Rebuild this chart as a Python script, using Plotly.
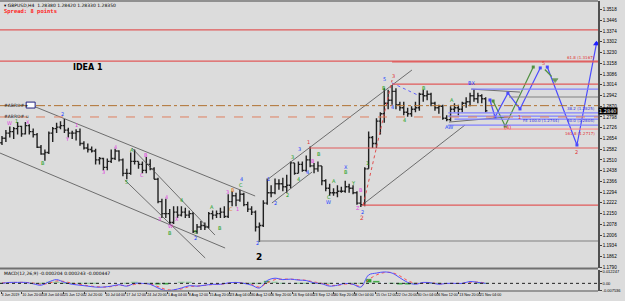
import plotly.graph_objects as go

# ---------------- data (daily bars, trading-day index) ----------------
days = list(range(125))
first_open = 1.2625
high = [1.2670, 1.2710, 1.2735, 1.2730, 1.2765, 1.2740, 1.2765, 1.2750, 1.2720, 1.2690,
        1.2610, 1.2580, 1.2700, 1.2730, 1.2760, 1.2770, 1.2785, 1.2725, 1.2705, 1.2715,
        1.2720, 1.2635, 1.2620, 1.2600, 1.2585, 1.2530, 1.2525, 1.2520, 1.2580, 1.2585,
        1.2575, 1.2520, 1.2450, 1.2560, 1.2580, 1.2500, 1.2500, 1.2530, 1.2515, 1.2460,
        1.2390, 1.2250, 1.2250, 1.2180, 1.2200, 1.2200, 1.2200, 1.2190, 1.2170, 1.2160,
        1.2080, 1.2100, 1.2090, 1.2160, 1.2170, 1.2170, 1.2190, 1.2200, 1.2280, 1.2300,
        1.2290, 1.2310, 1.2290, 1.2230, 1.2200, 1.2170, 1.2090, 1.2240, 1.2385, 1.2340,
        1.2385, 1.2380, 1.2390, 1.2410, 1.2500, 1.2490, 1.2500, 1.2500, 1.2540, 1.2600,
        1.2490, 1.2500, 1.2470, 1.2380, 1.2350, 1.2320, 1.2340, 1.2330, 1.2370, 1.2350,
        1.2340, 1.2300, 1.2270, 1.2460, 1.2700, 1.2670, 1.2790, 1.2830, 1.2990, 1.2980,
        1.3013, 1.2990, 1.2900, 1.2900, 1.2860, 1.2870, 1.2900, 1.2960, 1.2980, 1.2975,
        1.2960, 1.2900, 1.2880, 1.2880, 1.2810, 1.2870, 1.2890, 1.2880, 1.2900, 1.2930,
        1.2960, 1.2985, 1.2960, 1.2950, 1.2930]
low = [1.2610, 1.2630, 1.2660, 1.2650, 1.2680, 1.2665, 1.2680, 1.2680, 1.2660, 1.2590,
       1.2545, 1.2505, 1.2550, 1.2630, 1.2690, 1.2715, 1.2690, 1.2660, 1.2650, 1.2640,
       1.2605, 1.2580, 1.2560, 1.2560, 1.2480, 1.2480, 1.2440, 1.2440, 1.2490, 1.2510,
       1.2500, 1.2400, 1.2380, 1.2410, 1.2480, 1.2450, 1.2420, 1.2420, 1.2440, 1.2380,
       1.2220, 1.2120, 1.2120, 1.2080, 1.2080, 1.2120, 1.2130, 1.2120, 1.2120, 1.2020,
       1.2015, 1.2040, 1.2040, 1.2050, 1.2110, 1.2120, 1.2120, 1.2120, 1.2120, 1.2200,
       1.2200, 1.2230, 1.2200, 1.2160, 1.2140, 1.2030, 1.1959, 1.2060, 1.2210, 1.2260,
       1.2280, 1.2310, 1.2300, 1.2290, 1.2320, 1.2410, 1.2420, 1.2430, 1.2430, 1.2460,
       1.2420, 1.2430, 1.2340, 1.2300, 1.2270, 1.2270, 1.2260, 1.2290, 1.2290, 1.2290,
       1.2280, 1.2210, 1.2195, 1.2200, 1.2450, 1.2590, 1.2590, 1.2680, 1.2760, 1.2850,
       1.2880, 1.2850, 1.2840, 1.2810, 1.2800, 1.2800, 1.2830, 1.2840, 1.2900, 1.2910,
       1.2870, 1.2840, 1.2820, 1.2780, 1.2770, 1.2770, 1.2830, 1.2810, 1.2830, 1.2860,
       1.2870, 1.2900, 1.2890, 1.2890, 1.2830]
close = [1.2655, 1.2690, 1.2700, 1.2720, 1.2735, 1.2685, 1.2740, 1.2700, 1.2680, 1.2595,
         1.2550, 1.2560, 1.2690, 1.2720, 1.2730, 1.2740, 1.2710, 1.2690, 1.2690, 1.2700,
         1.2620, 1.2590, 1.2580, 1.2570, 1.2510, 1.2520, 1.2460, 1.2500, 1.2520, 1.2570,
         1.2510, 1.2420, 1.2420, 1.2500, 1.2500, 1.2480, 1.2440, 1.2480, 1.2450, 1.2380,
         1.2230, 1.2150, 1.2150, 1.2090, 1.2160, 1.2140, 1.2160, 1.2140, 1.2150, 1.2030,
         1.2060, 1.2070, 1.2060, 1.2150, 1.2140, 1.2150, 1.2160, 1.2130, 1.2230, 1.2270,
         1.2240, 1.2280, 1.2210, 1.2180, 1.2160, 1.2060, 1.2070, 1.2220, 1.2290, 1.2290,
         1.2350, 1.2350, 1.2330, 1.2340, 1.2490, 1.2420, 1.2480, 1.2440, 1.2510, 1.2470,
         1.2450, 1.2470, 1.2370, 1.2320, 1.2290, 1.2290, 1.2300, 1.2300, 1.2330, 1.2320,
         1.2290, 1.2220, 1.2210, 1.2450, 1.2660, 1.2620, 1.2770, 1.2820, 1.2890, 1.2910,
         1.2970, 1.2880, 1.2860, 1.2830, 1.2820, 1.2850, 1.2860, 1.2950, 1.2940, 1.2950,
         1.2890, 1.2860, 1.2870, 1.2790, 1.2780, 1.2850, 1.2860, 1.2850, 1.2890, 1.2900,
         1.2940, 1.2920, 1.2940, 1.2920, 1.2840]
open_ = [first_open] + close[:-1]

# MACD sampled every second trading day
macd_days = list(range(0, 125, 2))
macd_main = [0.0, 0.001, 0.001, 0.001, -0.0005, -0.002, 0.0015, 0.004, 0.001, -0.001,
             -0.002, -0.003, -0.004, -0.004, -0.003, -0.0015, -0.003, 0.0, 0.0, -0.001,
             -0.005, -0.0078, -0.007, -0.005, -0.0025, -0.003, -0.002, -0.001, -0.001, 0.0005,
             0.001, 0.0, -0.002, -0.005, 0.003, 0.0055, 0.004, 0.0045, 0.0035, 0.003,
             0.0005, -0.0005, -0.003, -0.002, 0.0, -0.001, -0.004, 0.009, 0.011, 0.0122,
             0.011, 0.006, 0.001, -0.001, 0.001, 0.0005, -0.001, 0.0, 0.0, 0.0,
             0.002, 0.001, 0.0]
macd_signal = [0.0005, 0.0008, 0.001, 0.001, 0.0003, -0.001, 0.0, 0.0025, 0.002, 0.0,
               -0.0012, -0.0025, -0.0035, -0.004, -0.0035, -0.002, -0.0025, -0.0012, -0.0003, -0.0008,
               -0.0035, -0.0065, -0.0072, -0.006, -0.0035, -0.003, -0.0022, -0.0013, -0.001, 0.0,
               0.0008, 0.0004, -0.0012, -0.004, 0.0005, 0.004, 0.0045, 0.0045, 0.004, 0.0032,
               0.0015, 0.0, -0.002, -0.0022, -0.0008, -0.0008, -0.003, 0.004, 0.009, 0.0115,
               0.0115, 0.008, 0.003, 0.0, 0.0005, 0.0007, -0.0005, -0.0002, 0.0, 0.0,
               0.0012, 0.0013, 0.0005]

date_labels = ["3 Jun 2019", "10 Jun 20:00", "18 Jun 04:00", "25 Jun 12:00", "2 Jul 20:00",
               "10 Jul 04:00", "17 Jul 12:00", "24 Jul 20:00", "1 Aug 04:00", "8 Aug 12:00",
               "15 Aug 20:00", "23 Aug 04:00", "30 Aug 12:00", "6 Sep 20:00", "16 Sep 04:00",
               "23 Sep 12:00", "30 Sep 20:00", "8 Oct 04:00", "15 Oct 12:00", "22 Oct 20:00",
               "30 Oct 04:00", "6 Nov 12:00", "13 Nov 20:00", "21 Nov 04:00"]

# horizontal levels
full_levels = [1.3382, 1.3173]
partial_red_start = [100, 100, 78.7, 92.3]
partial_red_levels = [1.3167, 1.3019, 1.2590, 1.2207]
gray_level_start = [130, 65.6]
gray_levels = [1.2932, 1.1966]
blue_level_start = [120.3, 114.4, 114.4, 116, 114.4]
blue_levels = [1.2985, 1.2825, 1.2804, 1.2784, 1.2744]
pivot_level = 1.2874
support_level = 1.2798
fib_red_level = 1.2717

# trend lines: (day0, price0, day1, price1)
trend_lines = [
    (7.95, 1.2872, 64.9, 1.2268),
    (-0.5, 1.2556, 57.2, 1.1919),
    (31.5, 1.2375, 52.1, 1.1852),
    (33.3, 1.2590, 54.6, 1.2006),
    (67.9, 1.2375, 105.1, 1.3113),
    (69.2, 1.2221, 79.5, 1.2429),
    (92.3, 1.2207, 118.7, 1.2744),
    (120.3, 1.2985, 132.8, 1.2965),
    (114.6, 1.2764, 129.7, 1.2798),
]
red_dotted = (92.6, 1.2207, 100.0, 1.3046)
blue_dotted = (100.0, 1.3026, 107.0, 1.2940)

# projection paths
proj_blue_a_d = [125.1, 126.4, 129.7, 132.8, 138.0]
proj_blue_a_p = [1.2912, 1.2798, 1.2958, 1.2852, 1.3127]
proj_blue_b_d = [139.8, 147.4, 152.4]
proj_blue_b_p = [1.3133, 1.2610, 1.3290]
proj_green_d = [125.9, 129.0, 136.2]
proj_green_p = [1.2905, 1.2737, 1.3133]
proj_green2_d = [139.3, 141.8]
proj_green2_p = [1.3113, 1.3046]

wave_labels = [
    (1.8, 1.2757, "W", "#e040e0"), (3.8, 1.2772, "1", "#20a020"), (6.7, 1.2764, "X", "#e040e0"),
    (10.5, 1.2489, "B", "#20a020"), (15.6, 1.2818, "2", "#2040ff"), (16.7, 1.2650, "Y", "#e040e0"),
    (19.0, 1.2744, "1", "#e040e0"), (25.9, 1.2429, "3", "#e040e0"), (29.2, 1.2596, "4", "#e040e0"),
    (31.8, 1.2362, "5", "#20a020"), (33.3, 1.2576, "A", "#20a020"), (36.9, 1.2543, "B", "#e040e0"),
    (35.9, 1.2409, "C", "#e040e0"), (40.5, 1.2113, "3", "#e040e0"), (42.1, 1.2261, "4", "#e040e0"),
    (43.1, 1.2066, "W", "#e040e0"), (43.1, 1.2019, "B", "#20a020"), (44.9, 1.2113, "X", "#e040e0"),
    (45.9, 1.2241, "4", "#20a020"), (49.5, 1.2026, "5", "#20a020"), (49.5, 1.1986, "2", "#2040ff"),
    (53.8, 1.2194, "A", "#20a020"), (55.9, 1.2053, "B", "#20a020"), (57.9, 1.2295, "3", "#e040e0"),
    (59.2, 1.2308, "B", "#e08020"), (58.7, 1.2180, "C", "#e08020"), (61.3, 1.2382, "4", "#2040ff"),
    (61.3, 1.2341, "C", "#20a020"), (60.5, 1.2180, "1", "#e040e0"), (65.6, 1.1952, "2", "#2040ff"),
    (68.2, 1.2382, "1", "#2040ff"), (70.0, 1.2221, "2", "#2040ff"), (73.1, 1.2274, "2", "#20a020"),
    (74.4, 1.2529, "3", "#20a020"), (76.4, 1.2583, "3", "#2040ff"), (75.9, 1.2382, "4", "#20a020"),
    (78.2, 1.2429, "4", "#2040ff"), (78.7, 1.2630, "1", "#e03030"), (79.7, 1.2503, "B", "#e040e0"),
    (81.3, 1.2549, "B", "#20a020"), (85.1, 1.2368, "A", "#20a020"), (83.8, 1.2261, "C", "#20a020"),
    (83.8, 1.2227, "W", "#2040ff"), (88.2, 1.2462, "X", "#2040ff"), (88.2, 1.2429, "B", "#20a020"),
    (90.0, 1.2355, "Y", "#20a020"), (92.1, 1.2308, "B", "#e040e0"), (91.3, 1.2187, "Z", "#e040e0"),
    (92.3, 1.2160, "2", "#2040ff"), (93.6, 1.2489, "1", "#20a020"), (98.0, 1.3050, "5", "#2040ff"),
    (98.0, 1.2995, "B", "#20a020"), (100.4, 1.3072, "3", "#e03030"), (100.0, 1.2865, "4", "#2040ff"),
    (103.3, 1.2778, "4", "#20a020"), (108.2, 1.2992, "B", "#20a020"), (115.4, 1.2912, "A", "#20a020"),
    (120.3, 1.3026, "BX", "#2040ff"), (114.6, 1.2731, "AW", "#2040ff"), (129.5, 1.2731, "(4)", "#e03030"),
    (132.8, 1.2798, "1", "#e03030"), (138.7, 1.3160, "5", "#e03030"), (147.4, 1.2563, "2", "#e03030"),
]

# ---------------- figure ----------------
BG = "#dcdcdc"
RED = "#e05a5a"
fig = go.Figure()

fig.add_trace(go.Ohlc(x=days, open=open_, high=high, low=low, close=close,
                      increasing_line_color="#202020", decreasing_line_color="#202020",
                      line_width=1.4, tickwidth=0.45, xaxis="x", yaxis="y",
                      showlegend=False, hoverinfo="skip"))

for (d0, p0, d1, p1) in trend_lines:
    fig.add_trace(go.Scatter(x=[d0, d1], y=[p0, p1], mode="lines",
                             line=dict(color="#505050", width=0.8), yaxis="y",
                             showlegend=False, hoverinfo="skip"))
fig.add_trace(go.Scatter(x=[red_dotted[0], red_dotted[2]], y=[red_dotted[1], red_dotted[3]],
                         mode="lines", line=dict(color="#e05050", width=1, dash="dot"),
                         showlegend=False, hoverinfo="skip"))
fig.add_trace(go.Scatter(x=[blue_dotted[0], blue_dotted[2]], y=[blue_dotted[1], blue_dotted[3]],
                         mode="lines", line=dict(color="#6060ff", width=1, dash="dot"),
                         showlegend=False, hoverinfo="skip"))

for dd, pp, col in [(proj_green_d, proj_green_p, "#509040"), (proj_blue_a_d, proj_blue_a_p, "#4a4aff"),
                    (proj_blue_b_d, proj_blue_b_p, "#4a4aff")]:
    fig.add_trace(go.Scatter(x=dd, y=pp, mode="lines+markers",
                             line=dict(color=col, width=1.2),
                             marker=dict(symbol="square", size=3, color=col),
                             showlegend=False, hoverinfo="skip"))
fig.add_trace(go.Scatter(x=proj_green2_d, y=proj_green2_p, mode="lines+markers",
                         line=dict(color="#509040", width=1.2, dash="dash"),
                         marker=dict(symbol=["circle", "triangle-down"], size=[1, 5], color="#407030"),
                         showlegend=False, hoverinfo="skip"))
fig.add_trace(go.Scatter(x=[proj_blue_b_d[-1]], y=[proj_blue_b_p[-1]], mode="markers",
                         marker=dict(symbol="triangle-up", size=6, color="#2020ff"),
                         showlegend=False, hoverinfo="skip"))

# MACD panel
hist = [m - s for m, s in zip(macd_main, macd_signal)]
fig.add_trace(go.Bar(x=macd_days, y=hist, marker_color="#30a030", width=1.6,
                     xaxis="x", yaxis="y2", showlegend=False, hoverinfo="skip"))
fig.add_trace(go.Scatter(x=macd_days, y=macd_signal, mode="lines",
                         line=dict(color="#ff5050", width=1, dash="dot", shape="spline"),
                         yaxis="y2", showlegend=False, hoverinfo="skip"))
fig.add_trace(go.Scatter(x=macd_days, y=macd_main, mode="lines",
                         line=dict(color="#5050ff", width=1, shape="spline"),
                         yaxis="y2", showlegend=False, hoverinfo="skip"))

X_MAX = 152.8
shapes = []
for lv in full_levels:
    shapes.append(dict(type="line", xref="paper", yref="y", x0=0, x1=1, y0=lv, y1=lv,
                       line=dict(color=RED, width=1.2)))
for st, lv in zip(partial_red_start, partial_red_levels):
    shapes.append(dict(type="line", xref="x", yref="y", x0=st, x1=X_MAX, y0=lv, y1=lv,
                       line=dict(color=RED, width=1.2)))
for st, lv in zip(gray_level_start, gray_levels):
    shapes.append(dict(type="line", xref="x", yref="y", x0=st, x1=X_MAX, y0=lv, y1=lv,
                       line=dict(color="#808080", width=1.2)))
for st, lv in zip(blue_level_start, blue_levels):
    shapes.append(dict(type="line", xref="x", yref="y", x0=st, x1=X_MAX, y0=lv, y1=lv,
                       line=dict(color="#8080ff", width=1.2)))
shapes.append(dict(type="line", xref="x", yref="y", x0=125, x1=X_MAX, y0=fib_red_level, y1=fib_red_level,
                   line=dict(color="#ff8080", width=1)))
shapes.append(dict(type="line", xref="paper", yref="y", x0=0, x1=1, y0=pivot_level, y1=pivot_level,
                   line=dict(color="#b07030", width=1, dash="dashdot")))
shapes.append(dict(type="line", xref="paper", yref="y", x0=0, x1=1, y0=support_level, y1=support_level,
                   line=dict(color="#e08060", width=1, dash="dash")))
shapes.append(dict(type="rect", xref="x", yref="y", x0=6.2, x1=8.5, y0=1.2858, y1=1.2898,
                   fillcolor="white", line=dict(color="#202080", width=1)))
shapes.append(dict(type="line", xref="paper", yref="y2", x0=0, x1=1, y0=0, y1=0,
                   line=dict(color="#202020", width=1, dash="dot")))
# frame / separators
shapes.append(dict(type="line", xref="paper", yref="paper", x0=0, x1=1, y0=0.0776, y1=0.0776,
                   line=dict(color="#707070", width=2)))
shapes.append(dict(type="line", xref="paper", yref="paper", x0=0, x1=1, y0=1, y1=1,
                   line=dict(color="#909090", width=2)))
shapes.append(dict(type="line", xref="paper", yref="paper", x0=0, x1=1, y0=0, y1=0,
                   line=dict(color="#808080", width=1.5)))

annotations = []
for d, p, t, c in wave_labels:
    annotations.append(dict(x=d, y=p, xref="x", yref="y", text=t, showarrow=False,
                            font=dict(size=5, color=c, family="DejaVu Sans")))
annotations.append(dict(x=65.9, y=1.1860, xref="x", yref="y", text="<b>2</b>", showarrow=False,
                        font=dict(size=9, color="#000000", family="DejaVu Sans")))
annotations.append(dict(x=92.3, y=1.2125, xref="x", yref="y", text="2", showarrow=False,
                        font=dict(size=6, color="#e03030", family="DejaVu Sans")))
annotations.append(dict(x=22.0, y=1.3130, xref="x", yref="y", text="<b>IDEA 1</b>", showarrow=False,
                        font=dict(size=8, color="#000000", family="DejaVu Sans")))
annotations.append(dict(x=0.003, y=1.0, xref="paper", yref="paper", yanchor="top", xanchor="left",
                        text="\u25be GBPUSD,H4  1.28380 1.28420 1.28330 1.28350", showarrow=False,
                        font=dict(size=4.5, color="#000000", family="DejaVu Sans")))
annotations.append(dict(x=0.003, y=0.983, xref="paper", yref="paper", yanchor="top", xanchor="left",
                        text="<b>Spread: 8 points</b>", showarrow=False,
                        font=dict(size=5.5, color="#ff2020", family="DejaVu Sans Mono")))
annotations.append(dict(x=0.003, y=pivot_level, xref="paper", yref="y", xanchor="left",
                        text="#ABRO# \u25b8", showarrow=False,
                        font=dict(size=4.5, color="#202020", family="DejaVu Sans")))
annotations.append(dict(x=0.003, y=support_level, xref="paper", yref="y", xanchor="left",
                        text="#ABRO# u", showarrow=False,
                        font=dict(size=4.5, color="#202020", family="DejaVu Sans")))
annotations.append(dict(x=0.003, y=0.075, xref="paper", yref="paper", yanchor="top", xanchor="left",
                        text="MACD(12,26,9) -0.000204 0.000243 -0.000447", showarrow=False,
                        font=dict(size=4.5, color="#000000", family="DejaVu Sans")))
for lv, txt, col, xa, ya in [(1.3167, "61.8 (1.3167)", "#e03030", X_MAX - 0.3, "bottom"),
                             (1.2825, "38.2 (1.2825)", "#3030e0", X_MAX - 0.3, "bottom"),
                             (1.2804, "50.0 (1.2804)", "#3030e0", X_MAX - 0.3, "top"),
                             (1.2744, "FE 100.0 (1.2744)", "#3030e0", X_MAX - 9.5, "bottom"),
                             (1.2717, "161.8 (1.2717)", "#e03030", X_MAX - 0.3, "top")]:
    annotations.append(dict(x=xa, y=lv, xref="x", yref="y", xanchor="right", yanchor=ya,
                            text=txt, showarrow=False, font=dict(size=4, color=col, family="DejaVu Sans")))
annotations.append(dict(x=1.0, y=close[-1], xref="paper", yref="y", xanchor="left",
                        text="1.2840", showarrow=False, bgcolor="#000000",
                        font=dict(size=5, color="#ffffff", family="DejaVu Sans"), borderpad=0))

tick_pos = [-0.25 + k * 5.333 for k in range(len(date_labels))]

fig.update_layout(
    width=625, height=301,
    margin=dict(l=0, r=27, t=1, b=10, autoexpand=False),
    paper_bgcolor=BG, plot_bgcolor=BG,
    showlegend=False, bargap=0,
    xaxis=dict(range=[-0.51, X_MAX], anchor="y2", showgrid=False, zeroline=False,
               rangeslider=dict(visible=False), tickvals=tick_pos, ticktext=date_labels,
               tickangle=0, automargin=False,
               ticklabelposition="outside right", ticks="outside", ticklen=2,
               tickcolor="#404040", tickfont=dict(size=3.6, color="#000000", family="Liberation Sans"),
               showline=False),
    yaxis=dict(domain=[0.0793, 1.0], range=[1.1785, 1.3576], side="right", showgrid=False,
               zeroline=False, tick0=1.1790, dtick=0.0072, tickformat=".4f", ticks="outside",
               ticklen=2, tickcolor="#404040", showline=True, linecolor="#505050", linewidth=1.5,
               automargin=False,
               tickfont=dict(size=4.6, color="#000000", family="Liberation Sans")),
    yaxis2=dict(domain=[0.0, 0.0724], range=[-0.0082, 0.0143], side="right", showgrid=False,
                zeroline=False, tickvals=[0.012247, 0.0, -0.0075], automargin=False,
                ticktext=["0.012247", "0.00", "-0.007536"], ticks="outside", ticklen=2,
                tickcolor="#404040", showline=True, linecolor="#505050", linewidth=1.5,
                tickfont=dict(size=4, color="#000000", family="Liberation Sans")),
    shapes=shapes, annotations=annotations,
)

fig.write_html("out.html")
